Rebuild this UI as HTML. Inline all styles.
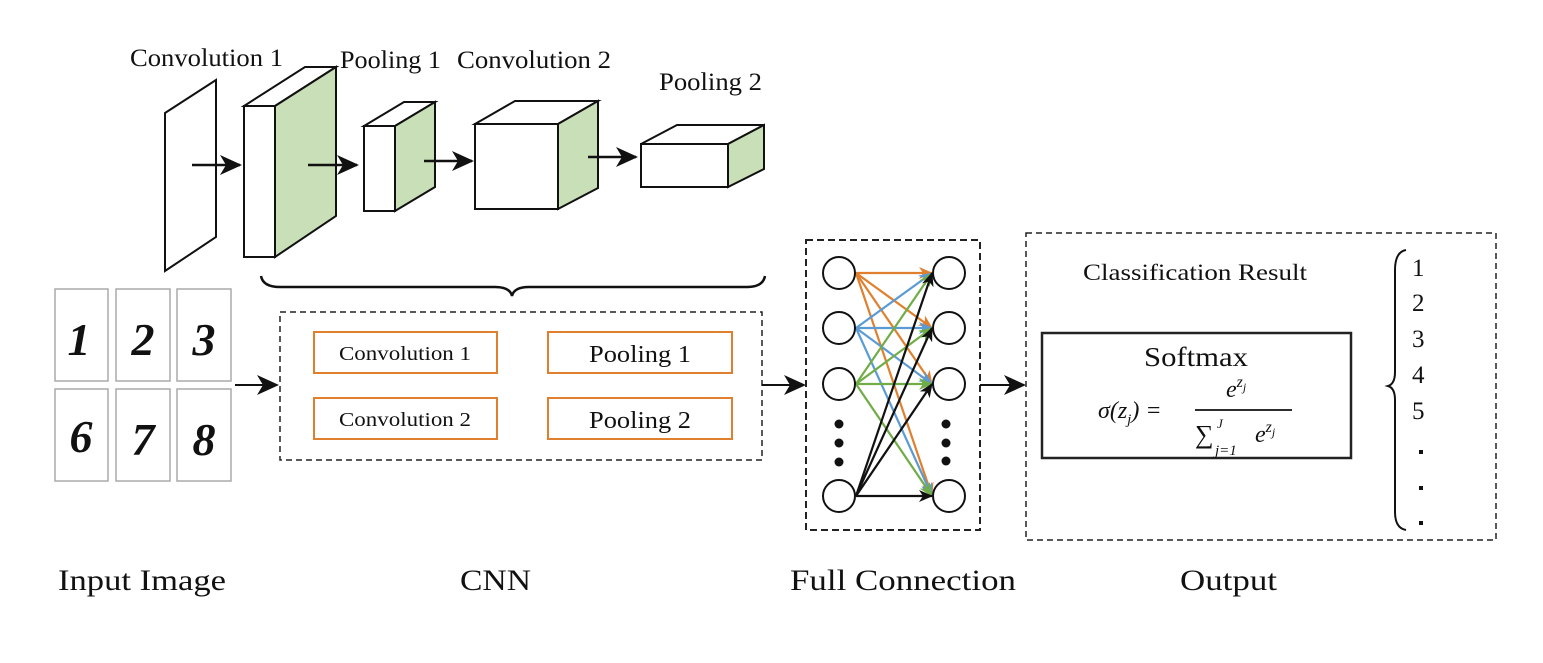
<!DOCTYPE html>
<html><head><meta charset="utf-8"><style>
body{margin:0;background:#fff}
svg{display:block}
text{font-family:"Liberation Serif",serif;fill:#111}
</style></head><body>
<svg width="1543" height="663" viewBox="0 0 1543 663" xmlns="http://www.w3.org/2000/svg">
<defs>
<marker id="ab" markerWidth="22" markerHeight="20" refX="20" refY="10" orient="auto" markerUnits="userSpaceOnUse"><path d="M0,0 L22,10 L0,20 L6,10z" fill="#111"/></marker>
<marker id="ao" markerWidth="14" markerHeight="12" refX="13" refY="6" orient="auto" markerUnits="userSpaceOnUse"><path d="M0,0 L14,6 L0,12 L4,6z" fill="#e0802e"/></marker>
<marker id="abl" markerWidth="14" markerHeight="12" refX="13" refY="6" orient="auto" markerUnits="userSpaceOnUse"><path d="M0,0 L14,6 L0,12 L4,6z" fill="#5b9bd5"/></marker>
<marker id="ag" markerWidth="14" markerHeight="12" refX="13" refY="6" orient="auto" markerUnits="userSpaceOnUse"><path d="M0,0 L14,6 L0,12 L4,6z" fill="#70ad47"/></marker>
<marker id="abk" markerWidth="14" markerHeight="12" refX="13" refY="6" orient="auto" markerUnits="userSpaceOnUse"><path d="M0,0 L14,6 L0,12 L4,6z" fill="#111"/></marker>
</defs>

<g font-size="25">
<text x="130" y="66" textLength="153" lengthAdjust="spacingAndGlyphs">Convolution 1</text>
<text x="340" y="68" textLength="101" lengthAdjust="spacingAndGlyphs">Pooling 1</text>
<text x="457" y="68" textLength="154" lengthAdjust="spacingAndGlyphs">Convolution 2</text>
<text x="659" y="90" textLength="103" lengthAdjust="spacingAndGlyphs">Pooling 2</text>
</g>

<g stroke="#111" stroke-width="2" stroke-linejoin="miter">
<polygon points="165,113 216,80 216,237 165,271" fill="#fff"/>
<polygon points="244,106 275,106 336,67 305,67" fill="#fff"/>
<polygon points="275,106 336,67 336,216 275,257" fill="#c9dfb8"/>
<rect x="244" y="106" width="31" height="151" fill="#fff"/>
<polygon points="364,126 395,126 435,102 404,102" fill="#fff"/>
<polygon points="395,126 435,102 435,187 395,211" fill="#c9dfb8"/>
<rect x="364" y="126" width="31" height="85" fill="#fff"/>
<polygon points="475,124 558,124 598,101 515,101" fill="#fff"/>
<polygon points="558,124 598,101 598,188 558,209" fill="#c9dfb8"/>
<rect x="475" y="124" width="83" height="85" fill="#fff"/>
<polygon points="641,144 728,144 764,125 677,125" fill="#fff"/>
<polygon points="728,144 764,125 764,169 728,187" fill="#c9dfb8"/>
<rect x="641" y="144" width="87" height="43" fill="#fff"/>
</g>
<g stroke="#111" stroke-width="2.5">
<line x1="192" y1="165" x2="240" y2="165" marker-end="url(#ab)"/>
<line x1="308" y1="165" x2="357" y2="165" marker-end="url(#ab)"/>
<line x1="424" y1="161" x2="472" y2="161" marker-end="url(#ab)"/>
<line x1="588" y1="157" x2="636" y2="157" marker-end="url(#ab)"/>
</g>
<path d="M261,276 Q263,287 280,287 L495,287 Q510,287 512,296 Q514,287 529,287 L747,287 Q763,287 765,276" fill="none" stroke="#111" stroke-width="2.5"/>

<g fill="#fff" stroke="#aaa" stroke-width="1.5">
<rect x="55" y="289" width="53" height="92"/><rect x="116" y="289" width="54" height="92"/><rect x="177" y="289" width="54" height="92"/>
<rect x="55" y="389" width="53" height="92"/><rect x="116" y="389" width="54" height="92"/><rect x="177" y="389" width="54" height="92"/>
</g>
<g font-size="46" font-style="italic" font-weight="bold" text-anchor="middle">
<text x="79" y="355">1</text><text x="143" y="355">2</text><text x="204" y="355">3</text>
<text x="81" y="452">6</text><text x="143" y="455">7</text><text x="204" y="455">8</text>
</g>
<line x1="235" y1="385" x2="277" y2="385" stroke="#111" stroke-width="2" marker-end="url(#ab)"/>

<rect x="280" y="312" width="482" height="148" fill="none" stroke="#222" stroke-width="1.5" stroke-dasharray="6,4"/>
<g fill="#fff" stroke="#e0802e" stroke-width="2">
<rect x="314" y="332" width="183" height="41"/><rect x="548" y="332" width="184" height="41"/>
<rect x="314" y="398" width="183" height="41"/><rect x="548" y="398" width="184" height="41"/>
</g>
<g>
<text x="339" y="360" font-size="20" textLength="132" lengthAdjust="spacingAndGlyphs">Convolution 1</text>
<text x="589" y="362" font-size="24" textLength="102" lengthAdjust="spacingAndGlyphs">Pooling 1</text>
<text x="339" y="426" font-size="20" textLength="132" lengthAdjust="spacingAndGlyphs">Convolution 2</text>
<text x="589" y="428" font-size="24" textLength="102" lengthAdjust="spacingAndGlyphs">Pooling 2</text>
</g>
<line x1="762" y1="385" x2="804" y2="385" stroke="#111" stroke-width="2" marker-end="url(#ab)"/>

<rect x="806" y="240" width="174" height="290" fill="none" stroke="#222" stroke-width="2" stroke-dasharray="7,4"/>
<g stroke-width="2.2" fill="none">
<g stroke="#e0802e">
<line x1="856" y1="273" x2="932" y2="273" marker-end="url(#ao)"/>
<line x1="856" y1="273" x2="932" y2="328" marker-end="url(#ao)"/>
<line x1="856" y1="273" x2="932" y2="384" marker-end="url(#ao)"/>
<line x1="856" y1="273" x2="932" y2="496" marker-end="url(#ao)"/>
</g>
<g stroke="#5b9bd5">
<line x1="856" y1="328" x2="932" y2="273" marker-end="url(#abl)"/>
<line x1="856" y1="328" x2="932" y2="328" marker-end="url(#abl)"/>
<line x1="856" y1="328" x2="932" y2="384" marker-end="url(#abl)"/>
<line x1="856" y1="328" x2="932" y2="496" marker-end="url(#abl)"/>
</g>
<g stroke="#70ad47">
<line x1="856" y1="384" x2="932" y2="273" marker-end="url(#ag)"/>
<line x1="856" y1="384" x2="932" y2="328" marker-end="url(#ag)"/>
<line x1="856" y1="384" x2="932" y2="384" marker-end="url(#ag)"/>
<line x1="856" y1="384" x2="932" y2="496" marker-end="url(#ag)"/>
</g>
<g stroke="#111">
<line x1="856" y1="496" x2="932" y2="273" marker-end="url(#abk)"/>
<line x1="856" y1="496" x2="932" y2="328" marker-end="url(#abk)"/>
<line x1="856" y1="496" x2="932" y2="384" marker-end="url(#abk)"/>
<line x1="856" y1="496" x2="932" y2="496" marker-end="url(#abk)"/>
</g>
</g>
<g fill="#fff" stroke="#111" stroke-width="2">
<circle cx="839" cy="273" r="16"/><circle cx="839" cy="328" r="16"/><circle cx="839" cy="384" r="16"/><circle cx="839" cy="496" r="16"/>
<circle cx="949" cy="273" r="16"/><circle cx="949" cy="328" r="16"/><circle cx="949" cy="384" r="16"/><circle cx="949" cy="496" r="16"/>
</g>
<g fill="#111">
<circle cx="839" cy="424" r="4.5"/><circle cx="839" cy="443" r="4.5"/><circle cx="839" cy="462" r="4.5"/>
<circle cx="946" cy="424" r="4.5"/><circle cx="946" cy="443" r="4.5"/><circle cx="946" cy="461" r="4.5"/>
</g>
<line x1="980" y1="385" x2="1024" y2="385" stroke="#111" stroke-width="2" marker-end="url(#ab)"/>

<rect x="1026" y="233" width="470" height="307" fill="none" stroke="#222" stroke-width="1.5" stroke-dasharray="6,4"/>
<text x="1083" y="280" font-size="23" textLength="224" lengthAdjust="spacingAndGlyphs">Classification Result</text>
<rect x="1042" y="333" width="309" height="125" fill="none" stroke="#222" stroke-width="2.5"/>
<text x="1144" y="366" font-size="27" textLength="104" lengthAdjust="spacingAndGlyphs">Softmax</text>
<g font-family="'DejaVu Serif',serif" font-style="italic">
<text x="1098" y="418" font-size="24">σ(z<tspan font-size="15" dy="6">j</tspan><tspan dy="-6">) =</tspan></text>
<text x="1226" y="397" font-size="24">e<tspan font-size="16" dy="-10">z</tspan><tspan font-size="12" dy="4">j</tspan></text>
<line x1="1195" y1="410" x2="1292" y2="410" stroke="#111" stroke-width="1.8"/>
<text x="1195" y="443" font-size="26" font-style="normal">∑</text>
<text x="1217" y="428" font-size="13">J</text>
<text x="1215" y="455" font-size="15">j=1</text>
<text x="1255" y="442" font-size="24">e<tspan font-size="16" dy="-10">z</tspan><tspan font-size="12" dy="4">j</tspan></text>
</g>
<path d="M1406,250 Q1395,252 1395,270 L1395,372 Q1395,384 1388,386 Q1395,388 1395,400 L1395,512 Q1395,528 1406,530" fill="none" stroke="#111" stroke-width="2"/>
<g font-size="25">
<text x="1412" y="276">1</text><text x="1412" y="311">2</text><text x="1412" y="347">3</text><text x="1412" y="383">4</text><text x="1412" y="419">5</text>
</g>
<g fill="#111"><rect x="1419" y="450" width="4" height="4"/><rect x="1419" y="486" width="4" height="4"/><rect x="1419" y="521" width="4" height="4"/></g>

<g font-size="30">
<text x="58" y="590" textLength="168" lengthAdjust="spacingAndGlyphs">Input Image</text>
<text x="460" y="590" textLength="71" lengthAdjust="spacingAndGlyphs">CNN</text>
<text x="790" y="590" textLength="226" lengthAdjust="spacingAndGlyphs">Full Connection</text>
<text x="1180" y="590" textLength="97" lengthAdjust="spacingAndGlyphs">Output</text>
</g>
</svg>
</body></html>
